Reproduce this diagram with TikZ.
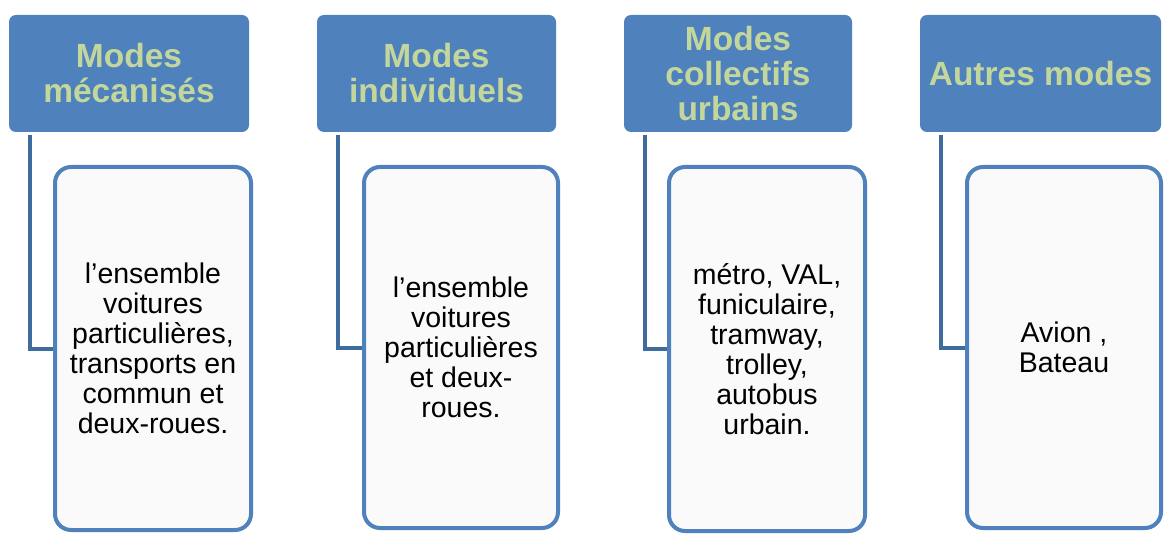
\documentclass[tikz,border=0pt]{standalone}
\usepackage{fontspec}
\setmainfont{Liberation Sans}
\definecolor{hdr}{HTML}{4F81BD}
\definecolor{hdrtxt}{HTML}{C3D69B}
\definecolor{conn}{HTML}{3F6C9F}
\definecolor{boxfill}{HTML}{FAFAFA}
\begin{document}
\begin{tikzpicture}[x=1pt,y=-1pt,
  header/.style={fill=hdr, draw=none, rounded corners=7pt, text=hdrtxt,
    font=\fontsize{33.5}{35}\selectfont\bfseries, align=center,
    minimum height=117pt, inner sep=0pt},
  body/.style={fill=boxfill, draw=hdr, line width=4pt, rounded corners=16pt,
    font=\fontsize{28.5}{30}\selectfont, align=center, inner sep=0pt},
  connector/.style={draw=conn, line width=4pt}]
\useasboundingbox (0,0) rectangle (1164,537);
\node[header, minimum width=240pt] (h1) at (129,73.5) {Modes\\mécanisés};
\node[header, minimum width=239pt] (h2) at (436.5,73.5) {Modes\\individuels};
\node[header, minimum width=228pt] (h3) at (738,73.5) {Modes\\collectifs\\urbains};
\node[header, minimum width=241pt] (h4) at (1040.5,73.5) {Autres modes};
\node[body, minimum width=196pt, minimum height=363pt] (b1) at (153,348.5)
  {l’ensemble\\voitures\\particulières,\\transports en\\commun et\\deux-roues.};
\node[body, minimum width=194pt, minimum height=361pt] (b2) at (461,347.5)
  {l’ensemble\\voitures\\particulières\\et deux-\\roues.};
\node[body, minimum width=196pt, minimum height=364pt] (b3) at (767,349)
  {métro, VAL,\\funiculaire,\\tramway,\\trolley,\\autobus\\urbain.};
\node[body, minimum width=194pt, minimum height=361pt] (b4) at (1064,347.5)
  {Avion ,\\Bateau};
\foreach \i in {1,2,3,4}{
  \draw[connector] ([xshift=21pt,yshift=-3pt]h\i.south west) |- (b\i.west);
}
\end{tikzpicture}
\end{document}
